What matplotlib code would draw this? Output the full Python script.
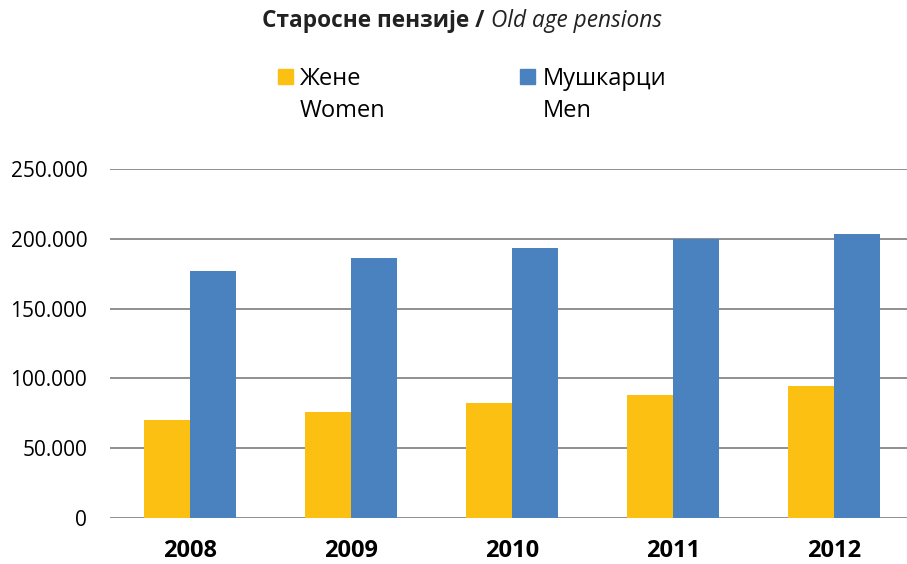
import numpy as np
import matplotlib
matplotlib.use("Agg")
import matplotlib.pyplot as plt
from matplotlib.patches import Patch
from matplotlib.ticker import FuncFormatter

plt.rcParams['font.family'] = ['Open Sans', 'DejaVu Sans']

godine = ['2008', '2009', '2010', '2011', '2012']
zene = [69900, 76100, 82400, 88100, 94300]
muskarci = [176900, 186700, 193800, 199900, 203200]

zuta = '#FBC012'
plava = '#4A81BF'

fig = plt.figure(figsize=(9.07, 5.64), dpi=100)
# desna ivica ose izlazi malo van slike, kao u originalu
ax = fig.add_axes([109.5 / 907, 0.0816, 805 / 907, 0.6184])

x = np.arange(len(godine))
w = 0.286
ax.bar(x - w / 2, zene, w, color=zuta, zorder=3)
ax.bar(x + w / 2, muskarci, w, color=plava, zorder=3)

ax.set_xlim(-0.5, len(godine) - 0.5)
ax.set_ylim(0, 250000)
ax.set_yticks(np.arange(0, 250001, 50000))
ax.yaxis.set_major_formatter(FuncFormatter(lambda v, p: f"{int(v):,}".replace(",", ".")))
ax.set_xticks(x)
ax.set_xticklabels(godine, fontweight='bold')
ax.tick_params(axis='y', length=0, pad=16, labelsize=15, colors='#000000')
ax.tick_params(axis='x', length=0, pad=15, labelsize=17)
ax.grid(axis='y', color='#878787', linewidth=1.3, zorder=0)
for s in ax.spines.values():
    s.set_visible(False)

# naslov iz dva dela: bold cirilica + italic engleski
t1 = fig.text(0, 0.962, 'Старосне пензије / ', fontsize=16.3, fontweight='bold',
              ha='left', va='center', color='#222222')
t2 = fig.text(0, 0.962, 'Old age pensions', fontsize=16.3, fontstyle='italic',
              ha='left', va='center', color='#222222')
fig.canvas.draw()
r = fig.canvas.get_renderer()
w1 = t1.get_window_extent(r).width
w2 = t2.get_window_extent(r).width
start = 462 - (w1 + w2) / 2
t1.set_x(start / 907)
t2.set_x((start + w1) / 907)

handles = [Patch(color=zuta), Patch(color='none'), Patch(color=plava), Patch(color='none')]
labels = ['Жене', 'Women', 'Мушкарци', 'Men']
fig.legend(handles, labels, ncol=2, loc='center', bbox_to_anchor=(472 / 907, 0.8316),
           frameon=False, fontsize=17, handlelength=0.64, handleheight=0.64,
           handletextpad=0.3, columnspacing=5.7, labelspacing=0.36)

plt.savefig('out.png', dpi=100)
